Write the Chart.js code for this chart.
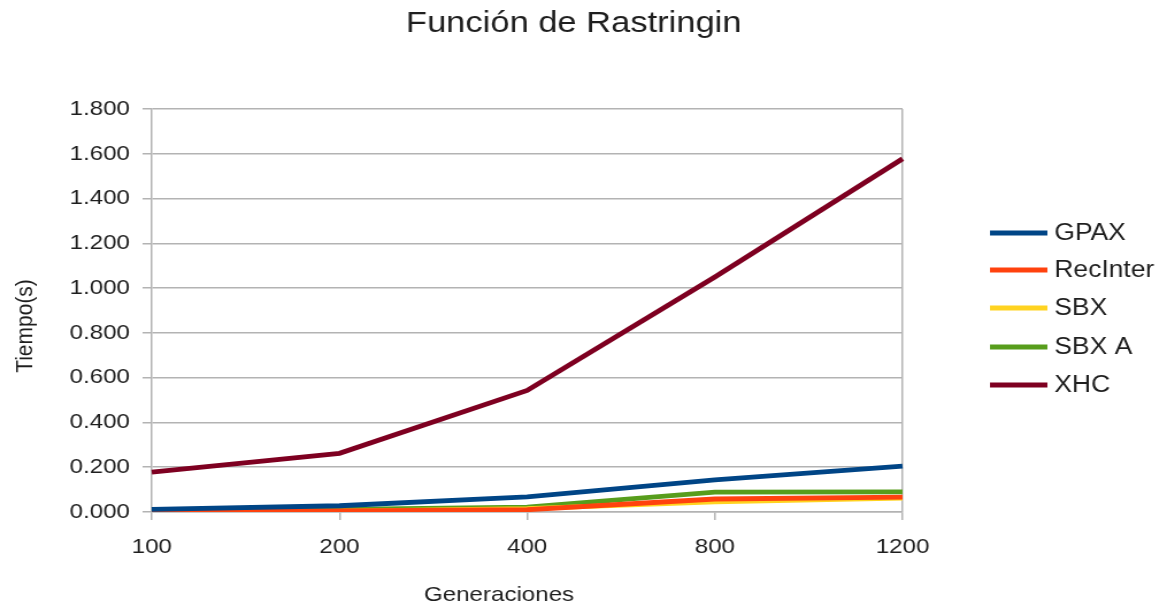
<!DOCTYPE html>
<html>
<head>
<meta charset="utf-8">
<script src="https://cdn.jsdelivr.net/npm/chart.js@4"></script>
<style>
  html, body { margin: 0; padding: 0; background: #ffffff; overflow: hidden; }
</style>
</head>
<body>
<canvas id="c" width="1015" height="609" style="display:block;width:1167px;height:609px;"></canvas>
<script>
// ---- data ----
const categories = ['100', '200', '400', '800', '1200'];
const seriesNames = ['GPAX', 'RecInter', 'SBX', 'SBX A', 'XHC'];
const gpax     = [0.012, 0.028, 0.068, 0.143, 0.205];
const recInter = [0.003, 0.005, 0.010, 0.058, 0.066];
const sbx      = [0.002, 0.004, 0.015, 0.045, 0.062];
const sbxA     = [0.005, 0.012, 0.022, 0.089, 0.090];
const xhc      = [0.178, 0.262, 0.543, 1.050, 1.578];
const yTicks   = [0, 0.2, 0.4, 0.6, 0.8, 1.0, 1.2, 1.4, 1.6, 1.8];
const colors   = ['#004586', '#ff420e', '#ffd320', '#579d1c', '#7e0021'];
const chartTitle = 'Función de Rastringin';
const xTitle = 'Generaciones';
const yTitle = 'Tiempo(s)';

const FONT = 'Liberation Sans, Arial, sans-serif';
const TEXT = '#1e1e1e';
const GRID = '#b3b3b3';

const allSeries = [gpax, recInter, sbx, sbxA, xhc];
const datasets = allSeries.map((d, i) => ({
  label: seriesNames[i],
  data: d,
  borderColor: colors[i],
  backgroundColor: colors[i],
  borderWidth: 4.8,
  pointRadius: 0,
  pointHoverRadius: 0,
  tension: 0,
  fill: false
}));

const decorPlugin = {
  id: 'decor',
  afterDraw(chart) {
    const ctx = chart.ctx;
    ctx.save();
    // legend
    const x0 = chart.width - 154;
    const rows = [233, 270, 308, 347, 385];
    ctx.font = '23px ' + FONT;
    ctx.textBaseline = 'middle';
    ctx.textAlign = 'left';
    chart.data.datasets.forEach((ds, i) => {
      const y = rows[i];
      ctx.strokeStyle = ds.borderColor;
      ctx.lineWidth = 5;
      ctx.lineCap = 'butt';
      ctx.beginPath();
      ctx.moveTo(x0, y);
      ctx.lineTo(x0 + 50, y);
      ctx.stroke();
      ctx.fillStyle = TEXT;
      ctx.fillText(ds.label, x0 + 56, y + 1);
    });
    // axis titles
    ctx.fillStyle = TEXT;
    ctx.font = '21px ' + FONT;
    ctx.textAlign = 'center';
    ctx.textBaseline = 'middle';
    ctx.fillText(xTitle, 434, 595);
    ctx.translate(22, 326);
    ctx.rotate(-Math.PI / 2);
    ctx.fillText(yTitle, 0, 0);
    ctx.restore();
  }
};

new Chart(document.getElementById('c'), {
  type: 'line',
  data: { labels: categories, datasets: datasets },
  options: {
    responsive: false,
    devicePixelRatio: 1,
    animation: false,
    layout: { padding: { left: 0, right: 17, top: 0, bottom: 0 } },
    plugins: {
      legend: { display: false },
      tooltip: { enabled: false },
      title: {
        display: true,
        text: chartTitle,
        color: TEXT,
        font: { family: FONT, size: 30, weight: 'normal' },
        padding: { top: 6, bottom: 67 }
      }
    },
    scales: {
      x: {
        offset: false,
        afterFit: (s) => { s.height = 97; },
        grid: {
          display: true,
          drawOnChartArea: true,
          color: (c) => (c.index === categories.length - 1 ? GRID : 'rgba(0,0,0,0)'),
          tickColor: GRID,
          tickLength: 8,
          lineWidth: 1.5
        },
        border: { display: true, color: GRID, width: 1.5 },
        ticks: {
          color: TEXT,
          font: { family: FONT, size: 21 },
          padding: 15,
          maxRotation: 0
        }
      },
      y: {
        min: 0,
        max: 1.8,
        afterFit: (s) => { s.width = 132; },
        afterBuildTicks: (s) => { s.ticks = yTicks.map(v => ({ value: v })); },
        grid: { color: GRID, tickColor: GRID, tickLength: 8, lineWidth: 1.5 },
        border: { display: true, color: GRID, width: 1.5 },
        ticks: {
          color: TEXT,
          font: { family: FONT, size: 21 },
          padding: 11,
          callback: (v) => Number(v).toFixed(3)
        }
      },
      yPad: {
        position: 'right',
        display: true,
        grid: { display: false },
        border: { display: false },
        ticks: { display: false },
        afterFit: (s) => { s.width = 213; }
      }
    }
  },
  plugins: [decorPlugin]
});
</script>
</body>
</html>
